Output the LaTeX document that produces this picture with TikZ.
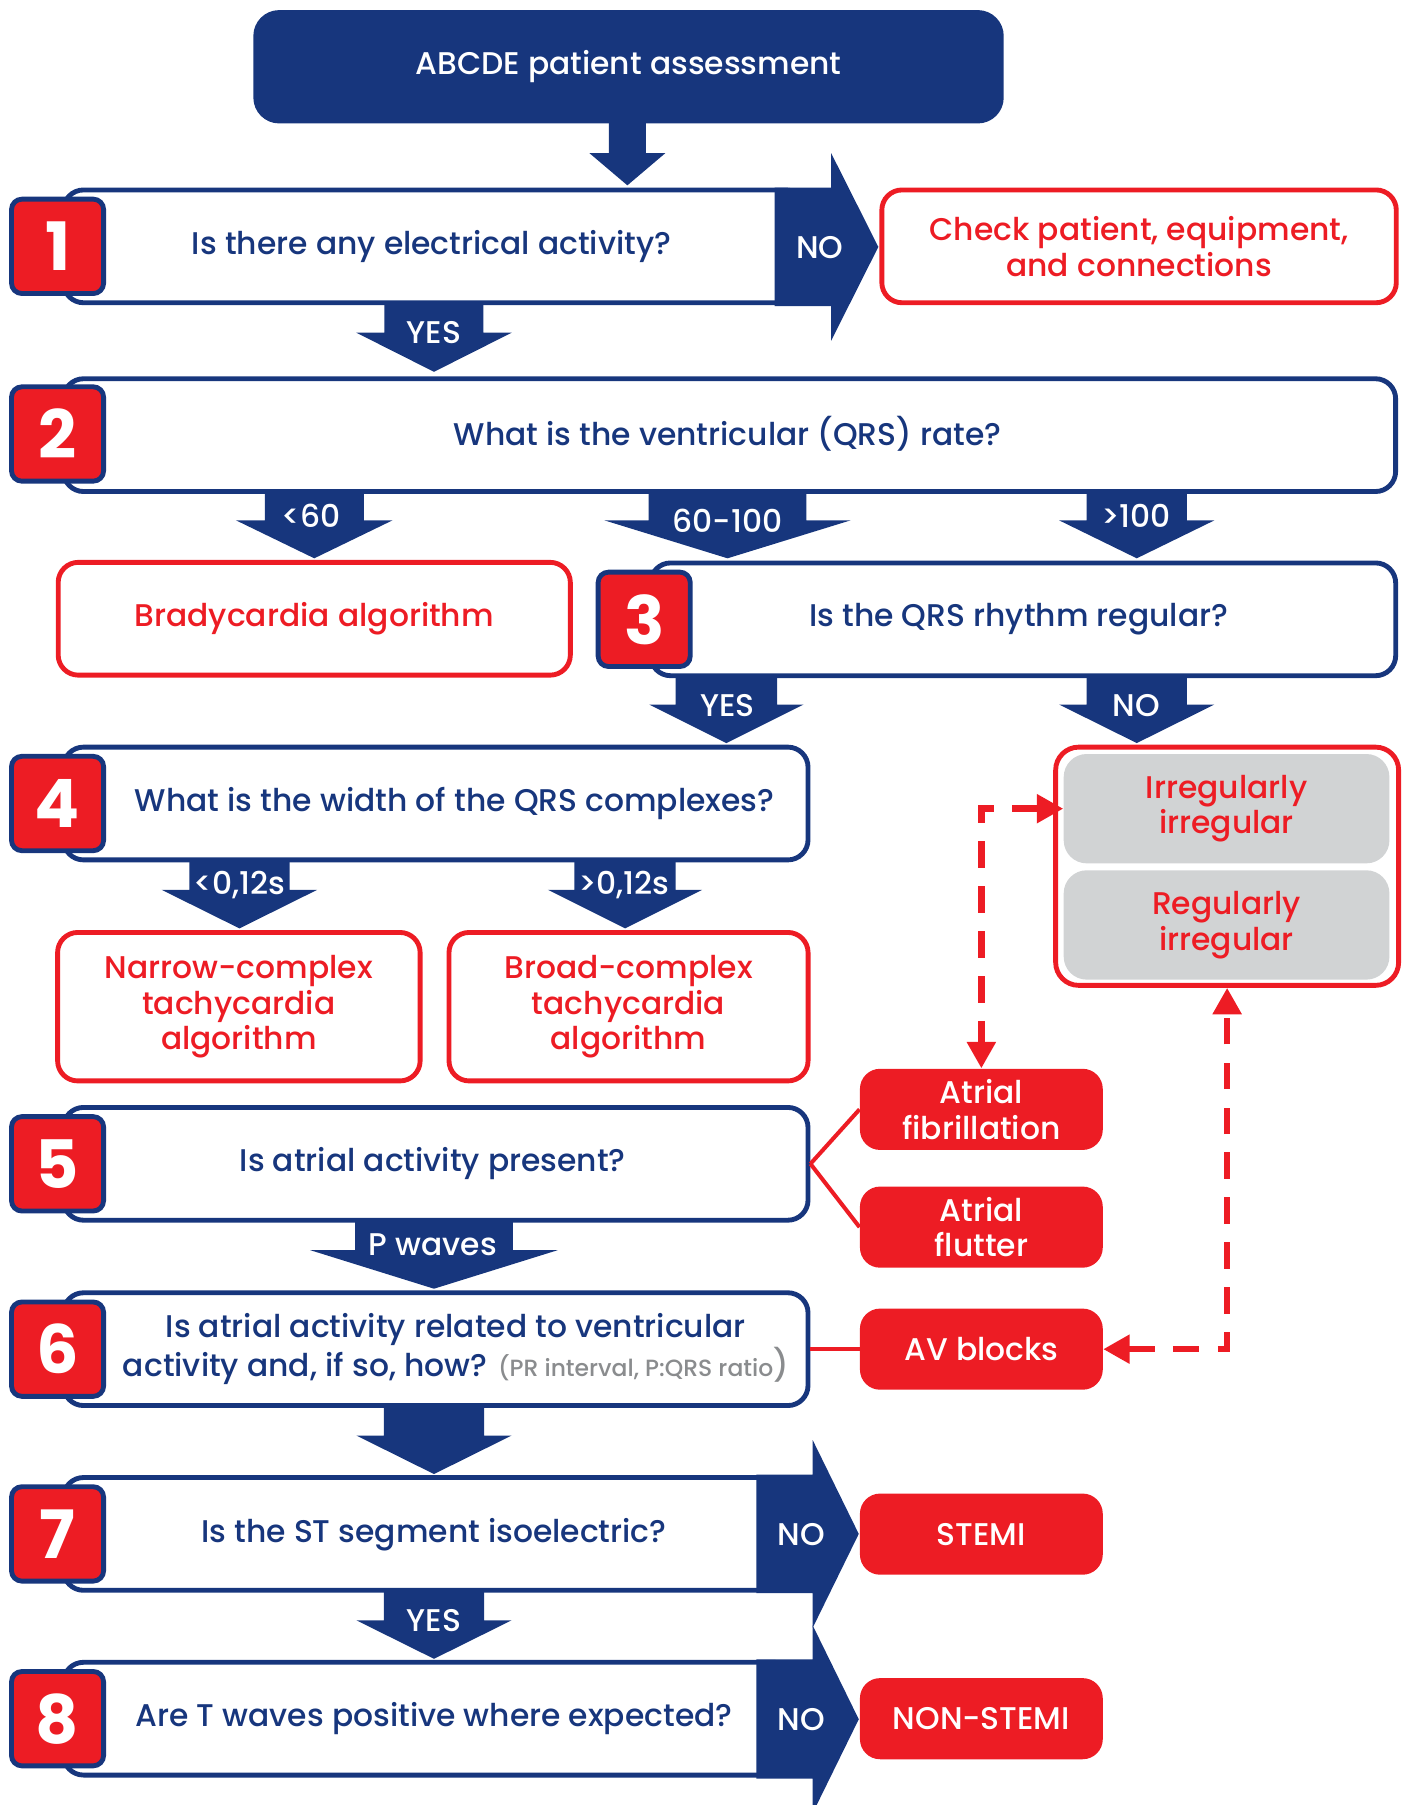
\documentclass[tikz,border=0pt]{standalone}
\usepackage{fontspec}
\setmainfont{Poppins}
\IfFontExistsTF{Poppins Medium}{\newfontfamily\medfam{Poppins Medium}}{%
  \IfFontExistsTF{Poppins SemiBold}{\newfontfamily\medfam{Poppins SemiBold}}{\newfontfamily\medfam{Poppins}}}
\usetikzlibrary{arrows.meta}
\definecolor{navy}{HTML}{17367D}
\definecolor{ecgred}{HTML}{ED1C24}
\definecolor{panelgrey}{HTML}{D1D3D4}
\definecolor{notegrey}{HTML}{8A8C8E}
\newcommand{\qfont}{\medfam\fontsize{15.5}{17.6}\selectfont}
\newcommand{\notefont}{\medfam\fontsize{11.6}{12}\selectfont}
\newcommand{\numfont}{\bfseries\fontsize{33}{35}\selectfont}
\newcommand{\blockdown}[6]{\fill[navy] ({#1-#5},#2) -- ({#1+#5},#2) -- ({#1+#5},#3) -- ({#1+#6},#3) -- (#1,#4) -- ({#1-#6},#3) -- ({#1-#5},#3) -- cycle;}
\tikzset{
  topbox/.style={fill=navy, rounded corners=0.45cm, minimum width=13.04cm, minimum height=1.97cm, text=white, font=\qfont},
  qbox/.style={draw=navy, line width=2.4pt, fill=white, rounded corners=0.35cm, minimum height=1.96cm, inner sep=0pt},
  qtext/.style={text=navy, align=center, font=\qfont},
  numbox/.style={draw=navy, line width=2.4pt, fill=ecgred, rounded corners=0.18cm, minimum width=1.6cm, minimum height=1.64cm, inner sep=0pt, text=white, font=\numfont},
  outbox/.style={draw=ecgred, line width=2.4pt, fill=white, rounded corners=0.35cm, inner sep=0pt, text=ecgred, align=center, font=\qfont},
  redbox/.style={fill=ecgred, rounded corners=0.35cm, minimum width=4.22cm, minimum height=1.41cm, inner sep=0pt, text=white, align=center, font=\qfont},
  greybox/.style={fill=panelgrey, rounded corners=0.4cm, minimum width=5.66cm, minimum height=1.9cm, inner sep=0pt, text=ecgred, align=center, font=\qfont},
  arrlbl/.style={text=white, font=\qfont},
  link/.style={draw=ecgred, line width=2pt},
  dlink/.style={draw=ecgred, line width=3.2pt, dash pattern=on 0.46cm off 0.32cm, {Triangle[length=0.46cm, width=0.48cm]}-{Triangle[length=0.46cm, width=0.48cm]}}
}
\begin{document}
\begin{tikzpicture}[x=0.02cm, y=-0.02cm]
       \useasboundingbox (0,0) rectangle (1223,1568);
       \node (start) at (546,58) [topbox] {ABCDE patient assessment};
       \blockdown{545}{105}{133}{161}{16}{33}
       \node (q1) at (377.5,214) [qbox, minimum width=12.9cm] {};
       \node (t1) at (375,214) [qtext] {Is there any electrical activity?};
       \fill[navy] (673,163) -- (722,163) -- (722,133) -- (763,214.5) -- (722,296) -- (722,266) -- (673,266) -- cycle;
       \node (no1) at (712,215) [arrlbl] {NO};
       \node (n1) at (50,214) [numbox] {1};
       \node (check) at (989.5,214) [outbox, minimum width=8.94cm, minimum height=1.96cm] {Check patient, equipment,\\and connections};
       \blockdown{377}{264}{289}{323}{43}{67.5}
       \node (yes1) at (377,289) [arrlbl] {YES};
       \node (q2) at (633.75,378) [qbox, minimum width=23.15cm] {};
       \node (t2) at (632,377) [qtext] {What is the ventricular (QRS) rate?};
       \node (n2) at (50,377) [numbox] {2};
       \blockdown{273}{427}{452}{485}{43}{68}
       \node (slow) at (270,448) [arrlbl] {<60};
       \blockdown{632}{427}{452}{485}{68.5}{107}
       \node (normal) at (632,452) [arrlbl] {60-100};
       \blockdown{987.5}{427}{452}{485}{43.5}{67.5}
       \node (fast) at (987,448) [arrlbl] {>100};
       \node (brady) at (273,537.5) [outbox, minimum width=8.9cm, minimum height=1.96cm] {Bradycardia algorithm};
       \node (q3) at (888.75,538) [qbox, minimum width=12.95cm] {};
       \node (t3) at (885,538) [qtext] {Is the QRS rhythm regular?};
       \node (n3) at (559.6,538) [numbox] {3};
       \blockdown{631}{587}{612}{645.5}{44}{67}
       \node (yes3) at (632,613) [arrlbl] {YES};
       \blockdown{987.5}{587}{612}{645.5}{43.5}{67.5}
       \node (no3) at (987,613) [arrlbl] {NO};
       \node (q4) at (378.5,698) [qbox, minimum width=12.94cm] {};
       \node (t4) at (395,698) [qtext] {What is the width of the QRS complexes?};
       \node (n4) at (50,698) [numbox] {4};
       \blockdown{208}{747}{773}{806.5}{43.5}{67.5}
       \node (narrowlbl) at (208,769) [arrlbl] {<0,12s};
       \blockdown{543}{747}{773}{806.5}{44}{67}
       \node (broadlbl) at (542,769) [arrlbl] {>0,12s};
       \node (narrow) at (207.5,874.5) [outbox, minimum width=6.3cm, minimum height=2.58cm] {Narrow-complex\\tachycardia\\algorithm};
       \node (broad) at (546,874.5) [outbox, minimum width=6.24cm, minimum height=2.58cm] {Broad-complex\\tachycardia\\algorithm};
       \node (grp) at (1066,752.5) [draw=ecgred, line width=2.4pt, rounded corners=0.4cm, minimum width=5.96cm, minimum height=4.14cm] {};
       \node (irr1) at (1065.5,702.5) [greybox] {Irregularly\\irregular};
       \node (irr2) at (1065.5,803.5) [greybox] {Regularly\\irregular};
       \node (q5) at (378.5,1011) [qbox, minimum width=12.94cm] {};
       \node (t5) at (376,1011) [qtext] {Is atrial activity present?};
       \node (n5) at (50,1011) [numbox] {5};
       \node (af) at (852.5,963.7) [redbox] {Atrial\\fibrillation};
       \node (afl) at (852.5,1066) [redbox] {Atrial\\flutter};
       \draw[link] (q5.east) -- (af.west);
       \draw[link] (q5.east) -- (afl.west);
       \blockdown{377}{1061}{1086}{1119.5}{68.5}{107.5}
       \node (pw) at (376,1081) [arrlbl] {P waves};
       \node (q6) at (378.5,1172) [qbox, minimum width=12.94cm] {};
       \node (t6) at (396,1172) [qtext] {Is atrial activity related to ventricular\\activity and, if so, how? {\notefont\color{notegrey}(PR interval, P:QRS ratio}{\color{notegrey})}};
       \node (n6) at (50,1172) [numbox] {6};
       \node (av) at (852.5,1172) [redbox] {AV blocks};
       \draw[link] (q6.east) -- (av.west);
       \draw[dlink] (irr1.west) -| (af.north);
       \draw[dlink] (av.east) -| (grp.south);
       \blockdown{377}{1222}{1247}{1280.5}{43.5}{67.5}
       \node (q7) at (372.5,1332.5) [qbox, minimum width=12.7cm] {};
       \node (t7) at (377,1333) [qtext] {Is the ST segment isoelectric?};
       \fill[navy] (657,1281) -- (706,1281) -- (706,1251) -- (746,1332.5) -- (706,1414) -- (706,1384) -- (657,1384) -- cycle;
       \node (no7) at (696,1333) [arrlbl] {NO};
       \node (n7) at (50,1332.5) [numbox] {7};
       \node (stemi) at (852.5,1332.7) [redbox] {STEMI};
       \blockdown{377}{1383}{1407.5}{1441}{43.5}{67.5}
       \node (yes7) at (377,1408) [arrlbl] {YES};
       \node (q8) at (372.5,1493) [qbox, minimum width=12.7cm] {};
       \node (t8) at (377,1493) [qtext] {Are T waves positive where expected?};
       \fill[navy] (657,1441.5) -- (706,1441.5) -- (706,1412) -- (746,1493.5) -- (706,1575) -- (706,1545) -- (657,1545) -- cycle;
       \node (no8) at (696,1494) [arrlbl] {NO};
       \node (n8) at (50,1493) [numbox] {8};
       \node (nstemi) at (852.5,1493) [redbox] {NON-STEMI};
\end{tikzpicture}
\end{document}
